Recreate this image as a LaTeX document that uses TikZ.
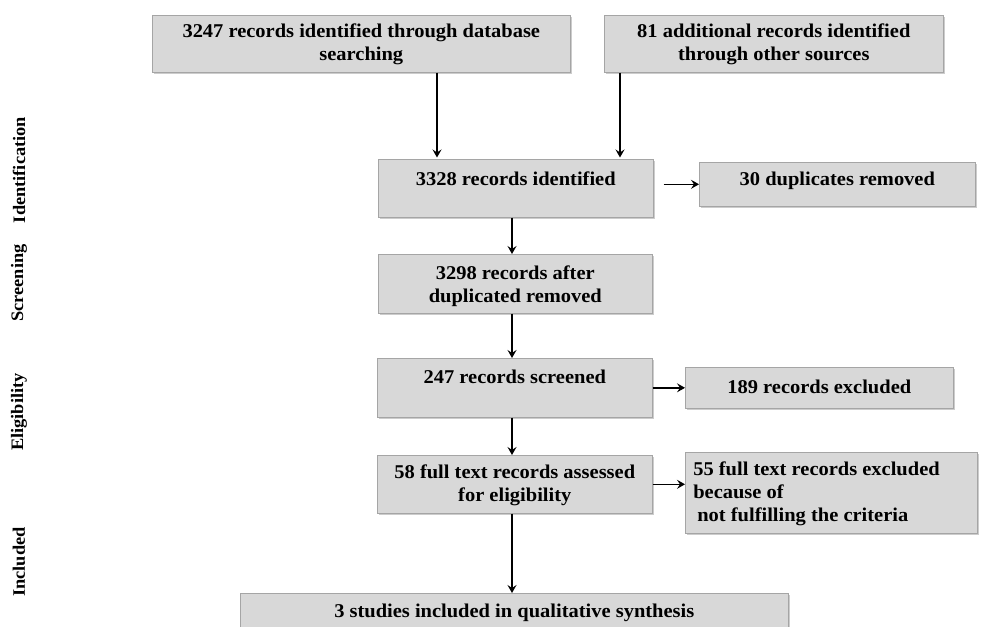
\documentclass[tikz,border=0pt]{standalone}
\usepackage{fontspec}
\setmainfont{Liberation Serif}[FakeStretch=1.05]
\usetikzlibrary{arrows.meta,shadows}
\definecolor{boxgray}{RGB}{216,216,216}
\definecolor{boxedge}{RGB}{165,165,165}
\newcommand\boxtext[4]{\parbox[c][#2][t]{#1}{\centering\rule{0pt}{#3}#4}}
\newcommand\boxtextl[4]{\parbox[c][#2][t]{#1}{\raggedright\rule{0pt}{#3}#4}}
\begin{document}
\begin{tikzpicture}[x=1pt,y=-1pt,
  box/.style={draw=boxedge, line width=0.6pt, fill=boxgray, inner sep=0pt, anchor=north west,
    font=\fontsize{19.5}{23}\selectfont\bfseries,
    drop shadow={shadow xshift=1.5pt, shadow yshift=-2pt, opacity=0.4}},
  arr/.style={-{Stealth[length=8pt,width=9pt,inset=3pt]}, line width=1.6pt},
  phase/.style={rotate=90, inner sep=0pt, font=\fontsize{17.5}{20}\selectfont\bfseries}]
\useasboundingbox (0,0) rectangle (984,626);

% phase labels
\node[phase] (p1) at (19,170) {Identification};
\node[phase] (p2) at (19,283) {Screening};
\node[phase] (p3) at (19,412) {Eligibility};
\node[phase] (p4) at (19,562) {Included};

% boxes
\node[box] (A) at (152,15) {\boxtext{418pt}{57pt}{22pt}{3247 records identified through database\\searching}};
\node[box] (B) at (604,15) {\boxtext{339pt}{57pt}{22pt}{81 additional records identified\\through other sources}};
\node[box] (C) at (378,159) {\boxtext{275pt}{58pt}{26pt}{3328 records identified}};
\node[box] (D) at (699,162) {\boxtext{276pt}{44pt}{23pt}{30 duplicates removed}};
\node[box] (E) at (378,254) {\boxtext{274pt}{59pt}{25pt}{3298 records after\\duplicated removed}};
\node[box] (F) at (377,358) {\boxtext{275pt}{59pt}{25pt}{247 records screened}};
\node[box] (G) at (685,367) {\boxtext{268pt}{41pt}{26pt}{189 records excluded}};
\node[box] (H) at (377,455) {\boxtext{275pt}{58pt}{23pt}{58 full text records assessed\\for eligibility}};
\node[box] (I) at (685,452) {\hspace*{8pt}\boxtextl{284pt}{81pt}{23pt}{55 full text records excluded\\because of\\\hspace*{4pt}not fulfilling the criteria}};
\node[box] (J) at (240,593) {\boxtext{548pt}{45pt}{24pt}{3 studies included in qualitative synthesis}};

% connectors
\coordinate (xa) at (437,0);
\coordinate (xb) at (620,0);
\coordinate (xm) at (512,0);
\draw[arr, shorten >=1.5pt] (A.south -| xa) -- (C.north -| xa);
\draw[arr, shorten >=1.5pt] (B.south -| xb) -- (C.north -| xb);
\draw[arr, shorten <=10pt] (C.east |- D.west) -- (D.west);
\draw[arr] (C.south -| xm) -- (E.north -| xm);
\draw[arr] (E.south -| xm) -- (F.north -| xm);
\draw[arr] (F.east |- G.west) -- (G.west);
\draw[arr] (F.south -| xm) -- (H.north -| xm);
\draw[arr] (H.east) -- (H.east -| I.west);
\draw[arr] (H.south -| xm) -- (J.north -| xm);
\end{tikzpicture}
\end{document}
